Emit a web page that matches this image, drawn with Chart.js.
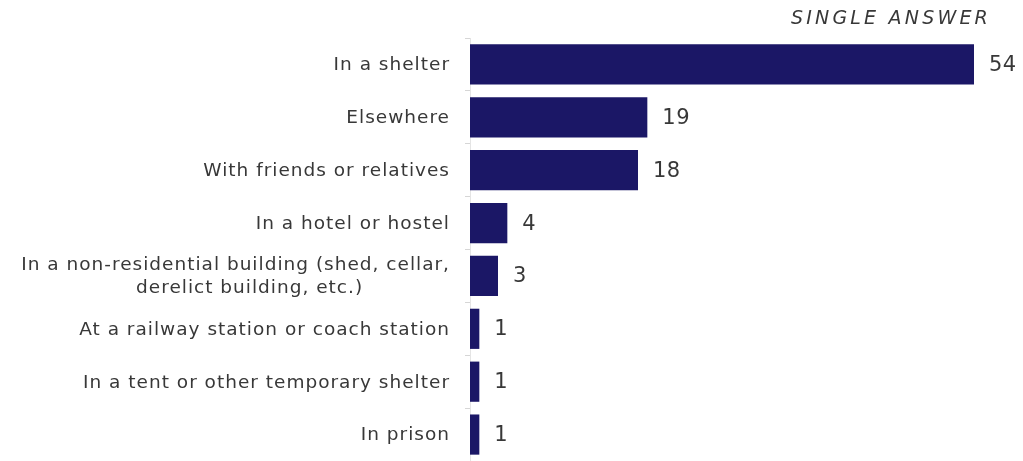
<!DOCTYPE html>
<html>
<head>
<meta charset="utf-8">
<script src="https://cdn.jsdelivr.net/npm/chart.js@4"></script>
<style>
  html, body { margin: 0; padding: 0; background: #fff; }
  #wrap { width: 1023px; height: 461px; }
</style>
</head>
<body>
<div id="wrap"><canvas id="chart"></canvas></div>
<script>
// where respondents stayed, single answer, %
const categories = [
  ['In a shelter'],
  ['Elsewhere'],
  ['With friends or relatives'],
  ['In a hotel or hostel'],
  ['In a non-residential building (shed, cellar,', 'derelict building, etc.)'],
  ['At a railway station or coach station'],
  ['In a tent or other temporary shelter'],
  ['In prison']
];
const values = [54, 19, 18, 4, 3, 1, 1, 1];
const subtitle = 'SINGLE ANSWER';

const FONT = '"DejaVu Sans", sans-serif';
const TEXT = '#383838';
const NAVY = '#1b1766';

// category labels on the left, extra lines centred under the first one
const sideLabels = {
  id: 'sideLabels',
  afterDraw(chart) {
    const { ctx, scales: { y }, chartArea } = chart;
    ctx.save();
    ctx.font = '18.5px ' + FONT;
    ctx.letterSpacing = '1px';
    ctx.fillStyle = TEXT;
    ctx.textBaseline = 'middle';
    const right = chartArea.left - 20;
    const lh = 23;
    categories.forEach((lines, i) => {
      const yc = y.getPixelForTick(i);
      const w0 = ctx.measureText(lines[0]).width;
      const cx = right - w0 / 2 + 14;
      const top = yc - (lines.length - 1) * lh / 2 + 1;
      lines.forEach((t, j) => {
        if (j === 0) {
          ctx.textAlign = 'right';
          ctx.fillText(t, right, top);
        } else {
          ctx.textAlign = 'center';
          ctx.fillText(t, cx, top + j * lh);
        }
      });
    });
    // subtitle above the bars
    ctx.font = 'italic 19px ' + FONT;
    ctx.letterSpacing = '3.2px';
    ctx.textAlign = 'right';
    ctx.fillText(subtitle, chartArea.right + 17, 19);
    ctx.restore();
  }
};

// numbers at the end of each bar
const valueLabels = {
  id: 'valueLabels',
  afterDatasetsDraw(chart) {
    const { ctx } = chart;
    const meta = chart.getDatasetMeta(0);
    ctx.save();
    ctx.font = '21px ' + FONT;
    ctx.letterSpacing = '0.5px';
    ctx.fillStyle = TEXT;
    ctx.textAlign = 'left';
    ctx.textBaseline = 'middle';
    meta.data.forEach((bar, i) => {
      ctx.fillText(String(values[i]), bar.x + 15, bar.y + 1);
    });
    ctx.restore();
  }
};

new Chart(document.getElementById('chart'), {
  type: 'bar',
  data: {
    labels: categories,
    datasets: [{
      data: values,
      backgroundColor: NAVY,
      borderWidth: 0,
      categoryPercentage: 1,
      barPercentage: 0.76
    }]
  },
  options: {
    indexAxis: 'y',
    responsive: true,
    maintainAspectRatio: false,
    animation: false,
    layout: { padding: { top: 38, right: 49, bottom: 0, left: 0 } },
    plugins: {
      legend: { display: false },
      tooltip: { enabled: false }
    },
    scales: {
      x: {
        display: false,
        min: 0,
        max: 54
      },
      y: {
        afterFit(scale) { scale.width = 470; },
        ticks: { display: false },
        border: { display: true, color: '#e4e4e4', width: 1 },
        grid: {
          offset: true,
          drawOnChartArea: false,
          drawTicks: true,
          tickLength: 5,
          color: '#d6d6d6'
        }
      }
    }
  },
  plugins: [sideLabels, valueLabels]
});
</script>
</body>
</html>
